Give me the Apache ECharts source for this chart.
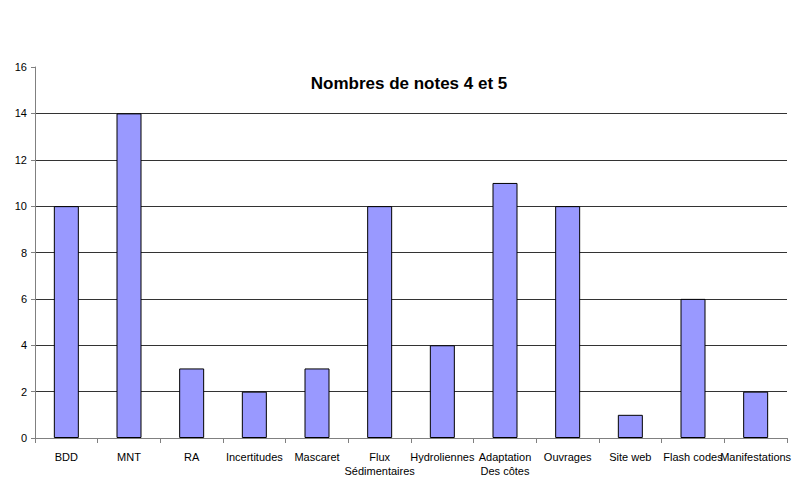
<!DOCTYPE html>
<html>
<head>
<meta charset="utf-8">
<script src="https://cdn.jsdelivr.net/npm/echarts@6/dist/echarts.min.js"></script>
<style>
  html, body { margin: 0; padding: 0; background: #fff; }
  #chart { width: 800px; height: 497px; }
</style>
</head>
<body>
<div id="chart"></div>
<script>
var categories = ['BDD', 'MNT', 'RA', 'Incertitudes', 'Mascaret', 'Flux\nSédimentaires',
  'Hydroliennes', 'Adaptation\nDes côtes', 'Ouvrages', 'Site web', 'Flash codes', 'Manifestations'];
var notes = [10, 14, 3, 2, 3, 10, 4, 11, 10, 1, 6, 2];
var titleText = 'Nombres de notes 4 et 5';

var chart = echarts.init(document.getElementById('chart'), null, { renderer: 'svg' });
chart.setOption({
  animation: false,
  title: {
    text: titleText,
    left: 404, top: 70,
    textAlign: 'center',
    textStyle: { fontFamily: 'Liberation Sans, Arial', fontSize: 17, fontWeight: 'bold', color: '#000' }
  },
  grid: { left: 35, right: 13, top: 67, bottom: 59 },
  xAxis: {
    type: 'category',
    data: categories,
    axisLine: { lineStyle: { color: '#808080', width: 1 } },
    axisTick: { show: true, length: 5, lineStyle: { color: '#808080' } },
    axisLabel: {
      interval: 0, margin: 12, color: '#000', lineHeight: 14,
      fontFamily: 'Liberation Sans, Arial', fontSize: 11
    }
  },
  yAxis: {
    type: 'value',
    min: 0, max: 16, interval: 2,
    axisLine: { show: true, lineStyle: { color: '#808080', width: 1 } },
    axisTick: { show: true, length: 4, lineStyle: { color: '#808080' } },
    axisLabel: { margin: 8, color: '#000', fontFamily: 'Liberation Sans, Arial', fontSize: 11 },
    splitLine: { showMaxLine: false, lineStyle: { color: '#333', width: 1 } }
  },
  series: [{
    type: 'bar',
    data: notes,
    barWidth: 25,
    itemStyle: { color: '#9999FF', borderColor: '#000', borderWidth: 1 }
  }]
});
</script>
</body>
</html>
